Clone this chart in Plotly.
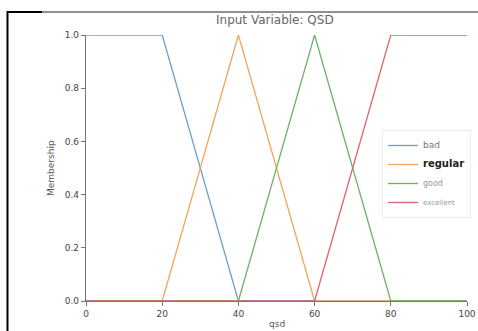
import plotly.graph_objects as go

bad_x = [0, 20, 40, 100]
bad_y = [1, 1, 0, 0]
regular_x = [0, 20, 40, 60, 100]
regular_y = [0, 0, 1, 0, 0]
good_x = [0, 40, 60, 80, 100]
good_y = [0, 0, 1, 0, 0]
excellent_x = [0, 60, 80, 100]
excellent_y = [0, 0, 1, 1]

x_ticks = [0, 20, 40, 60, 80, 100]
y_ticks = [0.0, 0.2, 0.4, 0.6, 0.8, 1.0]
y_tick_text = ["0.0", "0.2", "0.4", "0.6", "0.8", "1.0"]

W, H = 478, 331
L, R, T, B = 86, 467, 35, 301

fig = go.Figure()
series = [
    ("bad", bad_x, bad_y, "#6f9fc8", "<span style='font-size:9px;color:#777'>bad</span>"),
    ("regular", regular_x, regular_y, "#f5a55a", "<span style='font-size:10px;color:#222'><b>regular</b></span>"),
    ("good", good_x, good_y, "#6cb36a", "<span style='font-size:8px;color:#999'>good</span>"),
    ("excellent", excellent_x, excellent_y, "#d9676a", "<span style='font-size:7px;color:#999'>excellent</span>"),
]
for name, xs, ys, c, label in series:
    fig.add_trace(go.Scatter(x=xs, y=ys, mode="lines", name=label,
                             line=dict(color=c, width=1.3)))

def px(x):
    return (x - L) / (R - L)

def py(y):
    return (B - y) / (B - T)

shapes = [
    dict(type="line", xref="paper", yref="paper", x0=px(7.5), x1=px(7.5), y0=py(11), y1=py(331),
         line=dict(color="black", width=2)),
    dict(type="line", xref="paper", yref="paper", x0=px(7), x1=px(42), y0=py(12), y1=py(12),
         line=dict(color="black", width=2)),
    dict(type="line", xref="paper", yref="paper", x0=px(42), x1=px(478), y0=py(12), y1=py(12),
         line=dict(color="#222", width=1)),
]

annotations = [
    dict(text="Input Variable: QSD", xref="paper", yref="paper", x=px(275), y=py(20),
         xanchor="center", yanchor="middle",
         showarrow=False, font=dict(family="DejaVu Sans", size=12, color="#666")),
    dict(text="qsd", xref="paper", yref="paper", x=px(277), y=py(324),
         xanchor="center", yanchor="middle",
         showarrow=False, font=dict(family="DejaVu Sans", size=9, color="#555")),
    dict(text="Membership", xref="paper", yref="paper", x=px(51), y=py(168), textangle=-90,
         xanchor="center", yanchor="middle",
         showarrow=False, font=dict(family="DejaVu Sans", size=9, color="#555")),
]

fig.update_layout(
    width=W, height=H, autosize=False,
    margin=dict(l=L, r=W - R, t=T, b=H - B, pad=0, autoexpand=False),
    paper_bgcolor="white", plot_bgcolor="white",
    shapes=shapes, annotations=annotations,
    showlegend=True,
    legend=dict(x=px(382), y=py(130), xanchor="left", yanchor="top",
                bgcolor="rgba(255,255,255,0.9)", bordercolor="#ececec", borderwidth=1,
                font=dict(family="DejaVu Sans", size=7, color="#666"),
                itemwidth=30, tracegroupgap=0),
    xaxis=dict(range=[0, 100], tickvals=x_ticks, showgrid=False, zeroline=False,
               showline=True, linecolor="#777", linewidth=1.2, automargin=False,
               ticks="outside", ticklen=4, tickcolor="#777",
               tickfont=dict(family="DejaVu Sans", size=9, color="#444")),
    yaxis=dict(range=[0, 1], tickvals=y_ticks, ticktext=y_tick_text, showgrid=False,
               zeroline=False, showline=True, linecolor="#777", linewidth=1.2, automargin=False,
               ticks="outside", ticklen=4, tickcolor="#777",
               tickfont=dict(family="DejaVu Sans", size=9, color="#444")),
)

fig.write_html("out.html", config={"responsive": False},
               default_width="478px", default_height="331px",
               post_script="document.body.style.margin='0';document.body.style.overflow='hidden';document.documentElement.style.overflow='hidden';")
